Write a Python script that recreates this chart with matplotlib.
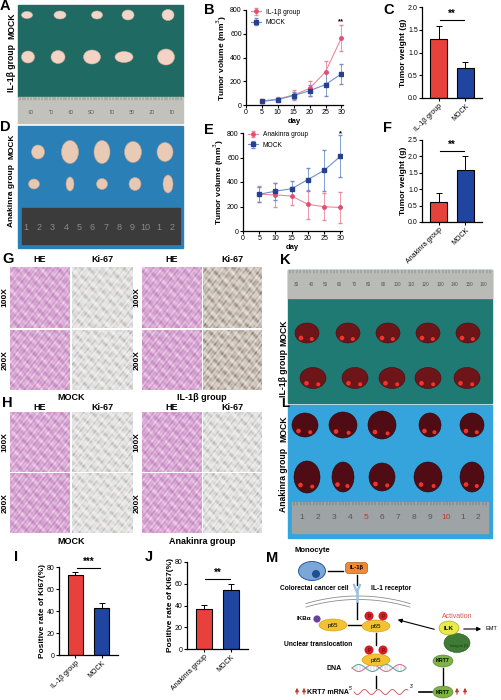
import numpy as np
import matplotlib
matplotlib.use('Agg')
import matplotlib.pyplot as plt
from matplotlib.patches import Rectangle, Ellipse, Circle, FancyBboxPatch
from matplotlib.colors import LinearSegmentedColormap

plt.rcParams['font.family'] = ['Liberation Sans', 'DejaVu Sans']

# ---- data ----
days = [5, 10, 15, 20, 25, 30]
b_il1b = [35, 50, 85, 140, 280, 565]
b_il1b_err = [15, 20, 45, 60, 93, 107]
b_mock = [30, 45, 80, 120, 172, 262]
b_mock_err = [10, 15, 30, 48, 100, 85]

e_anak = [300, 295, 285, 218, 198, 192]
e_anak_err = [65, 100, 75, 120, 110, 125]
e_mock = [300, 325, 345, 420, 495, 610]
e_mock_err = [60, 70, 60, 95, 170, 170]

c_groups = ['IL-1β group', 'MOCK']
c_weight = [1.3, 0.65]
c_err = [0.29, 0.14]

f_groups = ['Anakinra group', 'MOCK']
f_weight = [0.6, 1.6]
f_err = [0.28, 0.4]

i_groups = ['IL-1β group', 'MOCK']
i_rate = [72.5, 42.5]
i_err = [3.0, 4.5]

j_groups = ['Anakinra group', 'MOCK']
j_rate = [36.5, 54.5]
j_err = [4.0, 5.0]

RED = '#e8413c'
BLUE = '#1f45a0'
PINK_LINE = '#e88a9c'
PINK_MK = '#e0506e'
BLUE_LINE = '#6f8fcf'
BLUE_MK = '#26408e'

W, H = 502, 700
fig = plt.figure(figsize=(W / 100, H / 100), dpi=100)

# overlay in pixel coordinates for photos, labels and the diagram
ax0 = fig.add_axes([0, 0, 1, 1])
ax0.set_xlim(0, W)
ax0.set_ylim(H, 0)
ax0.axis('off')


def px_axes(x0, y0, x1, y1):
    return fig.add_axes([x0 / W, 1 - y1 / H, (x1 - x0) / W, (y1 - y0) / H])


def style(ax):
    for s in ['top', 'right']:
        ax.spines[s].set_visible(False)
    for s in ['left', 'bottom']:
        ax.spines[s].set_linewidth(0.9)
    ax.tick_params(length=2, width=0.8, labelsize=5, pad=1)


def letter(x, y, s, fs=10.5):
    ax0.text(x, y, s, fontsize=fs, fontweight='bold', ha='left', va='center')


def line_panel(ax, s1, e1, s2, e2, lab1, lab2, star, star_y):
    ax.errorbar(days, s1, yerr=e1, color=PINK_LINE, ecolor=PINK_LINE, lw=0.8,
                elinewidth=0.6, capsize=1.5, marker='o', ms=2.5, mfc=PINK_MK,
                mec=PINK_MK, label=lab1)
    ax.errorbar(days, s2, yerr=e2, color=BLUE_LINE, ecolor=BLUE_LINE, lw=0.8,
                elinewidth=0.6, capsize=1.5, marker='s', ms=2.5, mfc=BLUE_MK,
                mec=BLUE_MK, label=lab2)
    ax.set_xlim(0, 30.5)
    ax.set_ylim(0, 800)
    ax.set_xticks(range(0, 31, 5))
    ax.set_yticks(range(0, 801, 200))
    ax.set_xlabel('day', fontsize=5.5, fontweight='bold', labelpad=1)
    ax.set_ylabel('Tumor volume (mm$^3$)', fontsize=6, fontweight='bold', labelpad=1)
    ax.text(30, star_y, star, fontsize=5.5, ha='center', va='center', fontweight='bold')
    ax.legend(loc='upper left', fontsize=4.8, frameon=False, handlelength=1.4,
              borderaxespad=0.1, labelspacing=0.5, bbox_to_anchor=(0.02, 1.05))
    style(ax)


def bar_panel(ax, groups, vals, errs, ymax, ystep, ylabel, star, sig_y, width):
    x = np.arange(len(groups))
    ax.bar(x, vals, width, color=[RED, BLUE], edgecolor='black', linewidth=0.8, zorder=2)
    ax.errorbar(x, vals, yerr=[np.zeros(len(errs)), errs], fmt='none', ecolor='black',
                elinewidth=0.7, capsize=2.2, capthick=0.7, zorder=1)
    ax.plot([0.05, 0.95], [sig_y, sig_y], color='black', lw=0.8)
    ax.text(0.5, sig_y + ymax * 0.015, star, fontsize=7, fontweight='bold', ha='center', va='bottom')
    ax.set_xlim(-0.62, 1.62)
    ax.set_ylim(0, ymax)
    ax.set_yticks(np.arange(0, ymax + ystep / 2, ystep))
    ax.set_xticks(x, groups, rotation=45, ha='right', rotation_mode='anchor', fontsize=5.2)
    ax.set_ylabel(ylabel, fontsize=6, fontweight='bold', labelpad=1)
    style(ax)


# ---------- photos ----------
def ruler(x0, y0, x1, y1, color, labels, tcolor, fs, rot=0, red=()):
    ax0.add_patch(Rectangle((x0, y0), x1 - x0, y1 - y0, color=color, zorder=1))
    n = len(labels)
    for k, lab in enumerate(labels):
        xx = x0 + (k + 0.6) * (x1 - x0) / (n + 0.2)
        ax0.text(xx, (y0 + y1) / 2, lab, fontsize=fs, rotation=rot, ha='center', va='center',
                 color='#c0392b' if k in red else tcolor, zorder=3)
    for xx in np.linspace(x0 + 2, x1 - 2, 60):
        ax0.plot([xx, xx], [y0, y0 + 2.5], color=tcolor, lw=0.3, zorder=2)


def blobs(xs, y, w, h, color, edge, spots=None):
    for k, xx in enumerate(xs):
        ww, hh = (w[k], h[k]) if isinstance(w, list) else (w, h)
        ax0.add_patch(Ellipse((xx, y), ww, hh, fc=color, ec=edge, lw=0.4, zorder=4))
        if spots:
            ax0.add_patch(Circle((xx - ww * 0.25, y + hh * 0.25), 1.6, color=spots, zorder=5))
            ax0.add_patch(Circle((xx + ww * 0.2, y + hh * 0.3), 1.3, color=spots, zorder=5))


def vlabel(x, y, s, fs=6.2):
    ax0.text(x, y, s, fontsize=fs, fontweight='bold', rotation=90, ha='center', va='center')


# A
ax0.add_patch(Rectangle((18, 5), 165, 92, color='#1f6a63', zorder=1))
ruler(18, 97, 183, 123, '#c2c2bc', ['08', '0L', '09', 'OS', '01', '0E', '0Z', '01'], '#555555', 3.5, rot=180)
blobs([27, 60, 97, 128, 168], 15, [11, 12, 11, 12, 12], [7, 8, 8, 10, 11], '#f1d7ca', '#d9b4a4')
blobs([28, 58, 92, 124, 166], 57, [13, 14, 17, 18, 17], [12, 13, 14, 11, 16], '#f3d3c6', '#dcaa98')
vlabel(12, 26, 'MOCK')
vlabel(12, 68, 'IL-1β group')
letter(0, 6, 'A')

# D
ax0.add_patch(Rectangle((18, 126), 165, 122, color='#2a80b6', zorder=1))
ax0.add_patch(Rectangle((22, 208), 158, 36, color='#3b3b3b', zorder=2))
for k, lab in enumerate(['1', '2', '3', '4', '5', '6', '7', '8', '9', '10', '1', '2']):
    ax0.text(26 + k * 13.3, 228, lab, fontsize=6.5, color='#8a8a8a', ha='center', va='center', zorder=3)
blobs([38, 70, 102, 133, 165], 152, [13, 17, 16, 17, 16], [14, 23, 23, 21, 19], '#e9cbb5', '#c9a28c')
blobs([34, 70, 102, 135, 168], 184, [11, 8, 11, 12, 10], [10, 14, 11, 13, 18], '#e7c9b3', '#c49d88')
vlabel(12, 146, 'MOCK', fs=6)
vlabel(12, 196, 'Anakinra group', fs=6)
letter(0, 127, 'D')

# K
ax0.add_patch(Rectangle((288, 270), 204, 133, color='#1f7a73', zorder=1))
ruler(288, 270, 492, 298, '#b9bcb6',
      ['30', '40', '50', '60', '70', '80', '90', '100', '110', '120', '130', '140', '150', '160'],
      '#555555', 3.3)
liver = '#6e1519'
blobs([307, 348, 388, 428, 468], 333, 24, 20, liver, '#4a0c10', spots='#f0352c')
blobs([313, 355, 392, 428, 467], 378, 26, 21, liver, '#4a0c10', spots='#f0352c')
vlabel(284, 333, 'MOCK')
vlabel(284, 373, 'IL-1β group')
letter(280, 260, 'K')

# L
ax0.add_patch(Rectangle((288, 405), 204, 133, color='#35a3dc', zorder=1))
ruler(292, 502, 488, 533, '#9ea3a5', ['1', '2', '3', '4', '5', '6', '7', '8', '9', '10', '1', '2'],
      '#555555', 6, red=(4, 9))
liver2 = '#4f0c14'
blobs([305, 343, 382, 430, 472], 425, [26, 28, 28, 22, 24], [24, 26, 28, 24, 24], liver2, '#2a0508', spots='#f0352c')
blobs([307, 343, 382, 428, 472], 477, [26, 22, 26, 28, 24], [32, 30, 28, 30, 30], liver2, '#2a0508', spots='#f0352c')
vlabel(284, 429, 'MOCK')
vlabel(284, 480, 'Anakinra group')
letter(281, 404, 'L', fs=9.5)

# ---------- histology G / H ----------
he_cmap = LinearSegmentedColormap.from_list('he', ['#f3dcef', '#d9a8d4', '#bb7cba'])
ki_cmap = LinearSegmentedColormap.from_list('ki', ['#f6f6f6', '#e2e2e2', '#b3aea8'])
ki_dark = LinearSegmentedColormap.from_list('kid', ['#f1ede9', '#cdc4bb', '#857566'])
gx, gy = np.meshgrid(np.arange(60), np.arange(60))


def tissue(x0, y0, x1, y1, cmap, phase):
    z = (np.sin(gx * 0.9 + phase) * np.sin(gy * 0.8 - phase)
         + np.sin(gx * 0.37 - gy * 0.53 + phase) * np.cos(gx * 0.21 + gy * 0.17 + 2 * phase)
         + 0.6 * np.cos(gx * 1.7 + gy * 1.3))
    ax0.imshow(z, cmap=cmap, extent=(x0, x1, y1, y0), aspect='auto', zorder=1, interpolation='bilinear')


cols = [(10, 70), (72, 133), (142, 202), (203, 262)]
for rows, hy, caps, ly in [([(267, 328), (330, 390)], 260, ['MOCK', 'IL-1β group'], 397),
                           ([(412, 472), (473, 533)], 407, ['MOCK', 'Anakinra group'], 541)]:
    for ci, (cx0, cx1) in enumerate(cols):
        ax0.text((cx0 + cx1) / 2, hy, 'HE' if ci % 2 == 0 else 'Ki-67', fontsize=6.5,
                 fontweight='bold', ha='center', va='center')
        for ri, (ry0, ry1) in enumerate(rows):
            if ci % 2 == 0:
                cm = he_cmap
            elif ci == 3 and ly == 397:
                cm = ki_dark
            else:
                cm = ki_cmap
            tissue(cx0, ry0, cx1, ry1, cm, ci * 1.7 + ri * 0.9 + ly * 0.01)
    for ri, (ry0, ry1) in enumerate(rows):
        lab = '100X' if ri == 0 else '200X'
        vlabel(5, (ry0 + ry1) / 2, lab, fs=6)
        vlabel(137, (ry0 + ry1) / 2, lab, fs=6)
    ax0.text(71, ly, caps[0], fontsize=6.5, fontweight='bold', ha='center', va='center')
    ax0.text(202, ly, caps[1], fontsize=6.5, fontweight='bold', ha='center', va='center')
ax0.set_xlim(0, W)
ax0.set_ylim(H, 0)
letter(2, 259, 'G')
letter(2, 403, 'H')
letter(14, 557, 'I')
letter(145, 557, 'J')
letter(204, 10, 'B')
letter(204, 130, 'E')
letter(383, 10, 'C')
letter(383, 128, 'F')

# ---------- diagram M ----------
letter(266, 558, 'M')
ax0.text(312, 551, 'Monocyte', fontsize=5.5, fontweight='bold', ha='center', va='center')
ax0.add_patch(Ellipse((312, 571), 27, 19, fc='#7ba6d8', ec='#2a5b98', lw=0.7, zorder=3))
ax0.add_patch(Circle((316, 574), 4, fc='#1f4f8f', zorder=4))


def seg(x0, y0, x1, y1, lw=1.0, c='black'):
    ax0.plot([x0, x1], [y0, y1], color=c, lw=lw, zorder=2)


seg(328, 571, 343, 571)
ax0.add_patch(FancyBboxPatch((346, 563), 21, 10, boxstyle='round,pad=0.5,rounding_size=3',
                             fc='#ec8a3c', ec='#b85a1a', lw=0.5, zorder=3))
ax0.text(356.5, 568, 'IL-1β', fontsize=4.2, fontweight='bold', ha='center', va='center', zorder=4)
seg(357, 575, 357, 585)
ax0.text(349, 589, 'Colorectal cancer cell', fontsize=4.8, fontweight='bold', ha='right', va='center')
ax0.text(371, 589, 'IL-1 receptor', fontsize=4.8, fontweight='bold', ha='left', va='center')
mx = np.linspace(306, 410, 80)
for off in (0, 3.5):
    ax0.plot(mx, 596 + off + 0.0028 * (mx - 358) ** 2, color='#8c8c8c', lw=0.6, zorder=2)
seg(354, 585, 357, 592, lw=1.6, c='#9cc0e2')
seg(360, 585, 357, 592, lw=1.6, c='#9cc0e2')
seg(357, 592, 357, 602, lw=1.8, c='#9cc0e2')
seg(357, 603, 357, 619)
ax0.text(311, 619, 'IKBα', fontsize=4.5, fontweight='bold', ha='right', va='center')
ax0.add_patch(Circle((317, 619), 3.6, fc='#6b3f9e', zorder=4))


def p65(x, y, phos):
    ax0.add_patch(Ellipse((x, y), 28, 12, fc='#f2c232', ec='#c99a10', lw=0.4, zorder=3))
    ax0.text(x, y + 0.5, 'p65', fontsize=4.5, ha='center', va='center', zorder=4)
    if phos:
        for dx in (-7, 7):
            ax0.add_patch(Circle((x + dx, y - 10), 4.5, fc='#d61e22', zorder=4))
            ax0.text(x + dx, y - 10, 'P', fontsize=3.5, color='#5a0a0a', ha='center', va='center', zorder=5)


p65(333, 625, False)
seg(348, 625, 361, 625)
p65(376, 626, True)
ax0.text(318, 645, 'Unclear translocation', fontsize=4.8, fontweight='bold', ha='center', va='center')
seg(376, 633, 376, 645)
p65(376, 660, True)
ax0.text(342, 668, 'DNA', fontsize=5, fontweight='bold', ha='right', va='center')
hx = np.linspace(352, 406, 120)
ax0.plot(hx, 668 + 3.5 * np.sin((hx - 352) * 0.23), color='#d86a8c', lw=0.7, zorder=2)
ax0.plot(hx, 668 - 3.5 * np.sin((hx - 352) * 0.23), color='#4aa69a', lw=0.7, zorder=2)
for xx in hx[::6]:
    ax0.plot([xx, xx], [668 - 3 * np.sin((xx - 352) * 0.23), 668 + 3 * np.sin((xx - 352) * 0.23)],
             color='#9a9ab0', lw=0.3, zorder=1)
seg(376, 676, 376, 688)
for xx in (297, 304, 457, 465):
    ax0.annotate('', xy=(xx, 685), xytext=(xx, 697),
                 arrowprops=dict(arrowstyle='-|>', color='#c0392b', lw=0.8, mutation_scale=5))
ax0.text(307, 692, 'KRT7 mRNA', fontsize=5, fontweight='bold', ha='left', va='center')
ax0.text(349, 689, "5'", fontsize=3.5, ha='left', va='center')
wx = np.linspace(354, 408, 120)
ax0.plot(wx, 692 + 2.5 * np.sin((wx - 354) * 0.45), color='#c0504d', lw=0.6)
ax0.text(410, 686, "3'", fontsize=3.5, ha='left', va='center')
seg(419, 692, 432, 692, lw=1.2)
ax0.add_patch(Ellipse((443, 692), 20, 12, fc='#7cb342', ec='#4e7d22', lw=0.4, zorder=3))
ax0.text(443, 692, 'KRT7', fontsize=3.8, fontweight='bold', ha='center', va='center', zorder=4)
seg(443, 686, 443, 668)
ax0.add_patch(Ellipse((443, 661), 20, 12, fc='#7cb342', ec='#4e7d22', lw=0.4, zorder=3))
ax0.text(443, 661, 'KRT7', fontsize=3.8, fontweight='bold', ha='center', va='center', zorder=4)
ax0.add_patch(Ellipse((457, 643), 26, 19, fc='#3f7b35', ec='#2a5522', lw=0.4, zorder=3))
ax0.text(459, 646, 'Integrin β1', fontsize=2.8, color='#1c3a17', ha='center', va='center', zorder=4)
ax0.add_patch(Ellipse((449, 628), 20, 14, fc='#e8ea4a', ec='#9a9a20', lw=0.4, zorder=4))
ax0.text(449, 628, 'ILK', fontsize=4.5, fontweight='bold', ha='center', va='center', zorder=5)
ax0.text(457, 617, 'Activation', fontsize=5, color='#d9534f', ha='center', va='center')
ax0.annotate('', xy=(395, 619), xytext=(437, 630),
             arrowprops=dict(arrowstyle='-|>', color='black', lw=0.8, mutation_scale=6))
ax0.annotate('', xy=(484, 629), xytext=(461, 629),
             arrowprops=dict(arrowstyle='-|>', color='black', lw=0.8, mutation_scale=6))
ax0.text(486, 629, 'EMT', fontsize=4, ha='left', va='center')

# ---------- charts ----------
axB = px_axes(246, 10, 343, 105)
line_panel(axB, b_il1b, b_il1b_err, b_mock, b_mock_err, 'IL-1β group', 'MOCK', '**', 700)

axE = px_axes(243, 133, 342, 231)
line_panel(axE, e_anak, e_anak_err, e_mock, e_mock_err, 'Anakinra group', 'MOCK', '*', 790)

axC = px_axes(422, 7, 482, 98)
bar_panel(axC, c_groups, c_weight, c_err, 2.0, 0.5, 'Tumor weight (g)', '**', 1.71, 0.63)
axC.yaxis.set_major_formatter(matplotlib.ticker.FormatStrFormatter('%.1f'))

axF = px_axes(422, 140, 482, 222)
bar_panel(axF, f_groups, f_weight, f_err, 2.5, 0.5, 'Tumor weight (g)', '**', 2.15, 0.63)
axF.yaxis.set_major_formatter(matplotlib.ticker.FormatStrFormatter('%.1f'))

axI = px_axes(59, 567, 118, 655)
bar_panel(axI, i_groups, i_rate, i_err, 80, 20, 'Positive rate of Ki67(%)', '***', 79, 0.58)

axJ = px_axes(187, 562, 248, 649)
bar_panel(axJ, j_groups, j_rate, j_err, 80, 20, 'Positive rate of Ki67(%)', '**', 64.5, 0.58)

fig.savefig('out.png', dpi=100)
